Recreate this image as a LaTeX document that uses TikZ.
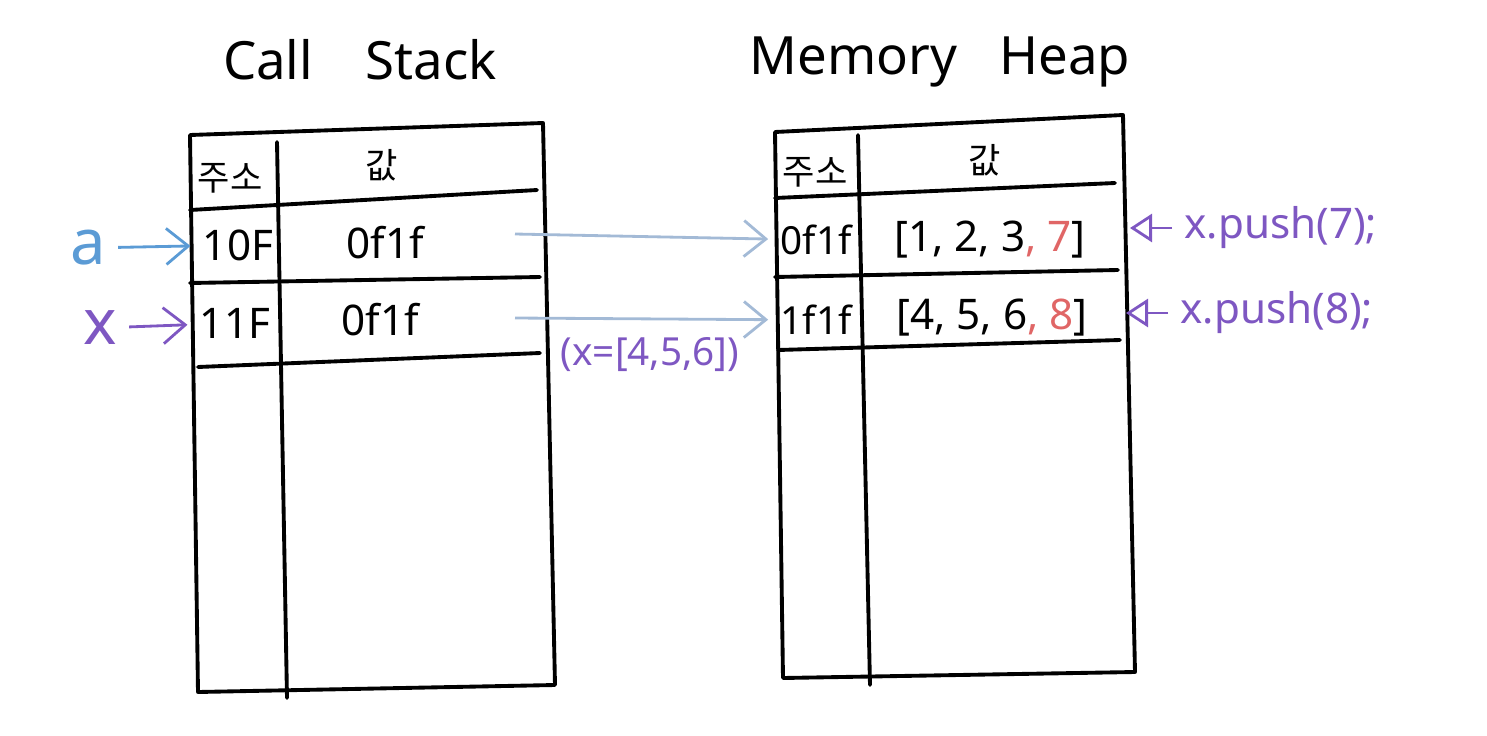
\documentclass[tikz,border=0pt]{standalone}
\usepackage{fontspec}
\setmainfont{Noto Sans}
\newfontfamily\krfont{Noto Sans CJK KR}
\usepackage{xcolor}
\definecolor{ptrblue}{HTML}{5B9BD5}
\definecolor{ptrpurple}{HTML}{7E57C2}
\definecolor{refgrey}{HTML}{A3BAD6}
\definecolor{addred}{HTML}{E06666}
\usetikzlibrary{arrows.meta, positioning, calc}

\begin{document}
\begin{tikzpicture}[
        x=0.01cm, y=-0.01cm,
        frame/.style={line width=1.1pt, line join=round, line cap=round},
        title/.style={font=\fontsize{15}{17}\selectfont},
        cell/.style={font=\fontsize{12}{14}\selectfont},
        head/.style={font=\krfont\fontsize{10}{12}\selectfont},
        varname/.style={font=\fontsize{18}{20}\selectfont},
        ptr/.style={line width=0.8pt, -{Straight Barb[length=2.2mm, width=3.6mm]}},
        push/.style={line width=0.8pt, -{Triangle[open, length=2.2mm, width=2.8mm]}},
        note/.style={font=\fontsize{12}{14}\selectfont, text=ptrpurple}
    ]
        \useasboundingbox (0,0) rectangle (1487,736);

        % Titles
        \node [title] (stacktitle) at (360,60) {Call\hspace{1em}Stack};
        \node [title] (heaptitle) at (940,62) {Memory\hspace{0.8em}Heap};

        % Call stack table
        \draw [frame] (190,135) -- (543,123) -- (555,685) -- (198,692) -- cycle;
        \draw [frame] (277,142) -- (287,698);
        \draw [frame] (190,210) -- (537,190);
        \draw [frame] (190,283) -- (540,277);
        \draw [frame] (198,367) -- (540,353);

        % Memory heap table
        \draw [frame] (775,132) -- (1123,115) -- (1135,672) -- (783,678) -- cycle;
        \draw [frame] (858,135) -- (870,685);
        \draw [frame] (775,198) -- (1115,183);
        \draw [frame] (775,277) -- (1118,270);
        \draw [frame] (778,350) -- (1120,340);

        % Headers
        \node [head] (saddr) at (230,178) {주소};
        \node [head] (sval) at (382,165) {값};
        \node [head] (haddr) at (815,172) {주소};
        \node [head] (hval) at (985,160) {값};

        % Stack cells
        \node [cell] (s10F) at (238,245) {10F};
        \node [cell] (s11F) at (235,323) {11F};
        \node [cell] (sref1) at (385,243) {0f1f};
        \node [cell] (sref2) at (380,320) {0f1f};

        % Heap cells
        \node [cell, font=\fontsize{11}{13}\selectfont] (h0f1f) at (816,240) {0f1f};
        \node [cell, font=\fontsize{11}{13}\selectfont] (h1f1f) at (816,320) {1f1f};
        \node [cell] (harr1) at (990,240) {[1, 2, 3\textcolor{addred}{, 7}]};
        \node [cell] (harr2) at (992,318) {[4, 5, 6\textcolor{addred}{, 8}]};

        % Variables
        \node [varname, text=ptrblue] (vara) at (88,248) {a};
        \node [varname, text=ptrpurple] (varx) at (100,328) {x};
        \draw [ptr, ptrblue] (vara) -- (s10F);
        \draw [ptr, ptrpurple] (varx) -- (s11F);

        % References into the heap
        \coordinate (ref1) at (515,234);
        \coordinate (ref2) at (515,318);
        \draw [ptr, refgrey] (ref1) -- (h0f1f);
        \draw [ptr, refgrey] (ref2) -- (h1f1f);
        \node [note, font=\fontsize{11}{13}\selectfont] (xinit) at (650,355) {(x=[4,5,6])};

        % Push calls
        \node [note, anchor=west] (push7) at (1172,228) {x.push(7);};
        \node [note, anchor=west] (push8) at (1168,313) {x.push(8);};
        \draw [push, ptrpurple] (push7.west) -- ++(-42,0);
        \draw [push, ptrpurple] (push8.west) -- ++(-42,0);
    \end{tikzpicture}
\end{document}
